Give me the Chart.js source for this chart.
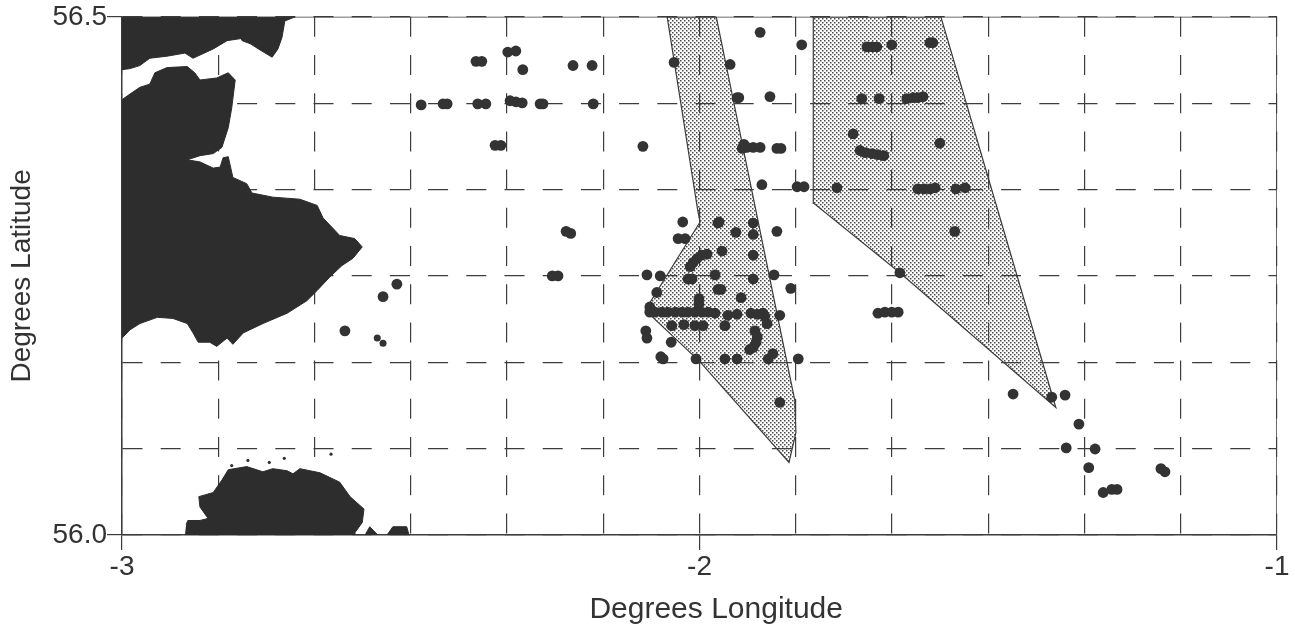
<!DOCTYPE html>
<html>
<head>
<meta charset="utf-8">
<script src="https://cdn.jsdelivr.net/npm/chart.js@4"></script>
<style type="text/css">
  html, body { margin: 0; background: #fff; }
  #wrap { width: 1295px; height: 632px; }
</style>
</head>
<body>
<div id="wrap"><canvas id="map"></canvas></div>
<script>
// axis ticks, grid every 1/12 degree
const lonTicks = [-3, -2.8333, -2.6667, -2.5, -2.3333, -2.1667, -2, -1.8333, -1.6667, -1.5, -1.3333, -1.1667, -1];
const lonLabels = ['-3', '', '', '', '', '', '-2', '', '', '', '', '', '-1'];
const latTicks = [56, 56.0833, 56.1667, 56.25, 56.3333, 56.4167, 56.5];
const latLabels = ['56.0', '', '', '', '', '', '56.5'];

// survey stations [lon, lat]
const westStations = [
  [-2.482,56.415],[-2.444,56.416],[-2.437,56.416],[-2.384,56.416],[-2.370,56.416],[-2.328,56.419],
  [-2.318,56.418],[-2.307,56.417],[-2.276,56.416],[-2.271,56.416],[-2.184,56.416],
  [-2.387,56.457],[-2.377,56.457],[-2.332,56.466],[-2.318,56.467],[-2.306,56.449],[-2.219,56.453],
  [-2.186,56.453],[-2.354,56.376],[-2.344,56.376],[-2.098,56.375],
  [-2.231,56.293],[-2.223,56.291],[-2.255,56.250],[-2.245,56.250],[-2.524,56.242],[-2.548,56.230],[-2.614,56.197]
];
const northStations = [
  [-2.044,56.456],[-1.947,56.454],[-1.895,56.485],[-1.823,56.473],[-1.935,56.422],[-1.932,56.422],[-1.878,56.423],
  [-1.926,56.373],[-1.923,56.377],[-1.918,56.374],[-1.907,56.374],[-1.895,56.374],[-1.866,56.373],[-1.859,56.373],
  [-1.892,56.338],[-1.831,56.336],[-1.819,56.336],[-1.861,56.128]
];
const eastStations = [
  [-1.710,56.471],[-1.701,56.471],[-1.693,56.471],[-1.667,56.473],[-1.601,56.475],[-1.596,56.475],
  [-1.719,56.421],[-1.689,56.421],[-1.641,56.421],[-1.630,56.422],[-1.622,56.422],[-1.613,56.423],
  [-1.734,56.387],[-1.584,56.378],[-1.722,56.371],[-1.713,56.369],[-1.701,56.368],[-1.691,56.367],[-1.681,56.366],
  [-1.762,56.335],[-1.622,56.334],[-1.611,56.334],[-1.601,56.334],[-1.592,56.335],[-1.556,56.334],[-1.540,56.335],
  [-1.558,56.293],[-1.653,56.253],[-1.691,56.214],[-1.679,56.215],[-1.667,56.215],[-1.656,56.215]
];
const southEastStations = [
  [-1.457,56.136],[-1.390,56.133],[-1.367,56.135],[-1.343,56.107],[-1.365,56.084],[-1.315,56.083],
  [-1.326,56.065],[-1.301,56.041],[-1.286,56.044],[-1.277,56.044],[-1.201,56.064],[-1.194,56.061]
];
const centreStations = [
  [-2.029,56.302],[-1.966,56.302],[-1.968,56.301],[-1.907,56.301],[-1.937,56.292],[-1.907,56.290],[-1.866,56.293],
  [-2.037,56.286],[-2.025,56.286],[-1.961,56.274],[-1.907,56.270],[-1.987,56.271],[-1.996,56.270],[-2.004,56.267],
  [-2.011,56.263],[-2.016,56.259],[-2.091,56.251],[-2.068,56.250],[-1.973,56.251],[-1.871,56.251],[-1.907,56.247],
  [-2.020,56.247],[-2.013,56.247],[-2.074,56.234],[-1.968,56.237],[-1.963,56.237],[-1.842,56.238],[-1.928,56.229],
  [-2.001,56.228],[-2.001,56.223],[-2.086,56.220],[-2.086,56.215],[-2.077,56.215],[-2.065,56.215],[-2.055,56.215],
  [-2.042,56.215],[-2.030,56.215],[-2.020,56.215],[-2.008,56.215],[-1.996,56.215],[-1.985,56.215],[-1.973,56.214],
  [-1.951,56.212],[-1.935,56.213],[-1.911,56.214],[-1.900,56.213],[-1.890,56.214],[-1.887,56.211],[-1.861,56.212],
  [-2.048,56.202],[-2.027,56.203],[-2.008,56.202],[-1.994,56.202],[-1.956,56.202],[-1.883,56.204],
  [-2.093,56.197],[-2.091,56.190],[-2.049,56.186],[-1.904,56.197],[-1.900,56.191],[-1.902,56.186],[-1.907,56.181],
  [-1.913,56.179],[-2.067,56.172],[-2.063,56.170],[-2.006,56.170],[-1.956,56.170],[-1.935,56.170],[-1.881,56.170],
  [-1.873,56.175],[-1.829,56.170]
];
const smallStations = [[-2.558,56.190],[-2.548,56.185]];
const specks = [[-2.810,56.067],[-2.782,56.072],[-2.745,56.070],[-2.719,56.074],[-2.638,56.078]];

// shaded areas
const areaWest = [
  [-2.056,56.5],[-1.971,56.5],[-1.835,56.130],[-1.833,56.099],[-1.845,56.070],[-1.999,56.167],
  [-2.094,56.217],[-1.999,56.302],[-2.003,56.313],[-2.056,56.5]
];
const areaEast = [
  [-1.803,56.5],[-1.582,56.5],[-1.383,56.123],[-1.653,56.253],[-1.802,56.320],[-1.803,56.5]
];

// land outlines
const landNorth = [
  [-3,56.5],[-2.700,56.5],[-2.718,56.496],[-2.723,56.480],[-2.730,56.469],[-2.740,56.461],[-2.758,56.467],
  [-2.778,56.474],[-2.792,56.477],[-2.794,56.479],[-2.818,56.477],[-2.842,56.469],[-2.877,56.460],[-2.891,56.465],
  [-2.922,56.462],[-2.952,56.460],[-2.969,56.453],[-2.986,56.450],[-3,56.449]
];
const landMiddle = [
  [-3,56.420],[-2.990,56.424],[-2.969,56.432],[-2.952,56.435],[-2.943,56.446],[-2.922,56.451],[-2.887,56.452],
  [-2.874,56.446],[-2.865,56.439],[-2.836,56.441],[-2.816,56.446],[-2.804,56.439],[-2.810,56.412],[-2.816,56.393],
  [-2.827,56.374],[-2.842,56.368],[-2.865,56.366],[-2.887,56.362],[-2.865,56.360],[-2.842,56.354],[-2.830,56.355],
  [-2.825,56.364],[-2.816,56.365],[-2.808,56.345],[-2.784,56.339],[-2.775,56.330],[-2.739,56.326],[-2.692,56.324],
  [-2.662,56.318],[-2.652,56.306],[-2.623,56.289],[-2.597,56.286],[-2.584,56.278],[-2.600,56.267],[-2.619,56.260],
  [-2.640,56.249],[-2.662,56.236],[-2.680,56.226],[-2.714,56.214],[-2.756,56.204],[-2.790,56.195],[-2.808,56.184],
  [-2.818,56.190],[-2.836,56.182],[-2.848,56.186],[-2.868,56.186],[-2.877,56.195],[-2.887,56.204],[-2.912,56.209],
  [-2.939,56.210],[-2.969,56.204],[-2.986,56.198],[-3,56.190]
];
const landSouth = [
  [-2.889,56.010],[-2.886,56.014],[-2.865,56.014],[-2.851,56.016],[-2.865,56.027],[-2.867,56.037],[-2.842,56.041],
  [-2.827,56.053],[-2.816,56.063],[-2.784,56.066],[-2.756,56.061],[-2.739,56.064],[-2.714,56.062],[-2.704,56.059],
  [-2.692,56.064],[-2.657,56.060],[-2.623,56.051],[-2.605,56.037],[-2.581,56.025],[-2.584,56.012],[-2.597,56.002],
  [-2.597,56.0],[-2.891,56.0]
];
const isletOne = [[-2.579,56.0],[-2.571,56.008],[-2.557,56.0]];
const isletTwo = [[-2.541,56.0],[-2.531,56.008],[-2.507,56.008],[-2.503,56.0]];
const frame = [[-3,56.5],[-1,56.5],[-1,56.0]];

const ink = '#333';
const lineInk = '#3c3c3c';
const font = '"Liberation Sans", Arial, sans-serif';

function toPoints(list) {
  return list.map(p => ({ x: p[0], y: p[1] }));
}

// stipple for the shaded areas
function stipple() {
  const c = document.createElement('canvas');
  c.width = 4;
  c.height = 4;
  const g = c.getContext('2d');
  g.fillStyle = '#4a4a4a';
  g.fillRect(0, 0, 1.5, 1.5);
  g.fillRect(2, 2, 1.5, 1.5);
  return g.createPattern(c, 'repeat');
}

function stations(list, radius) {
  return { data: toPoints(list), pointRadius: radius, pointBackgroundColor: ink, pointBorderWidth: 0, showLine: false };
}
function land(list) {
  return { data: toPoints(list), showLine: true, fill: 'shape', backgroundColor: '#2d2d2d', borderColor: '#2d2d2d', borderWidth: 1, pointRadius: 0 };
}
function area(list, pat) {
  return { data: toPoints(list), showLine: true, fill: 'shape', backgroundColor: pat, borderColor: lineInk, borderWidth: 1.2, pointRadius: 0 };
}

const pat = stipple();

new Chart(document.getElementById('map'), {
  type: 'scatter',
  data: {
    datasets: [
      stations(westStations, 5.4),
      stations(northStations, 5.4),
      stations(eastStations, 5.4),
      stations(southEastStations, 5.4),
      stations(centreStations, 5.4),
      stations(smallStations, 3.5),
      stations(specks, 1.6),
      { data: toPoints(frame), showLine: true, borderColor: lineInk, borderWidth: 1.5, pointRadius: 0, fill: false },
      land(landNorth),
      land(landMiddle),
      land(landSouth),
      land(isletOne),
      land(isletTwo),
      area(areaWest, pat),
      area(areaEast, pat)
    ]
  },
  options: {
    responsive: true,
    maintainAspectRatio: false,
    animation: false,
    layout: { padding: { top: 16, right: 18, left: 0, bottom: 0 } },
    plugins: { legend: { display: false }, tooltip: { enabled: false } },
    scales: {
      x: {
        type: 'linear',
        min: -3,
        max: -1,
        afterBuildTicks: s => { s.ticks = lonTicks.map(v => ({ value: v })); },
        afterFit: s => { s.height = 97; },
        border: { color: lineInk, width: 1.5, dash: [20, 18.2] },
        grid: {
          color: lineInk,
          lineWidth: 1.2,
          tickLength: 15,
          tickColor: c => lonLabels[c.index] === '' ? 'transparent' : lineInk
        },
        ticks: {
          autoSkip: false,
          maxRotation: 0,
          padding: 0,
          color: ink,
          font: { family: font, size: 28 },
          callback: (v, i) => lonLabels[i]
        },
        title: {
          display: true,
          text: '    Degrees Longitude',
          color: ink,
          font: { family: font, size: 30 },
          padding: { top: 0, bottom: 4 }
        }
      },
      y: {
        type: 'linear',
        min: 56,
        max: 56.5,
        afterBuildTicks: s => { s.ticks = latTicks.map(v => ({ value: v })); },
        afterFit: s => { s.width = 122; },
        border: { color: lineInk, width: 1.5, dash: [20, 18.2] },
        grid: {
          color: lineInk,
          lineWidth: 1.2,
          tickLength: 15,
          tickColor: c => latLabels[c.index] === '' ? 'transparent' : lineInk
        },
        ticks: {
          autoSkip: false,
          padding: 0,
          color: ink,
          font: { family: font, size: 28 },
          callback: (v, i) => latLabels[i]
        },
        title: {
          display: true,
          text: 'Degrees Latitude',
          color: ink,
          font: { family: font, size: 28 },
          padding: { top: 5, bottom: 0 }
        }
      }
    }
  }
});
</script>
</body>
</html>
